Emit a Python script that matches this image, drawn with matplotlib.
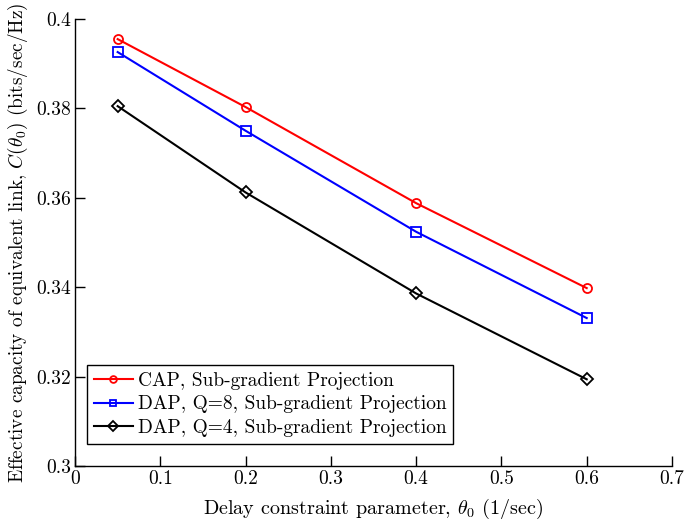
import matplotlib
matplotlib.use('Agg')
import matplotlib.pyplot as plt

# data
theta = [0.05, 0.2, 0.4, 0.6]
cap_sg = [0.3955, 0.3803, 0.3588, 0.3398]
dap_q8 = [0.3926, 0.3750, 0.3524, 0.3331]
dap_q4 = [0.3805, 0.3612, 0.3386, 0.3194]

plt.rcParams['font.family'] = 'serif'
plt.rcParams['font.serif'] = ['cmr10']
plt.rcParams['mathtext.fontset'] = 'cm'
plt.rcParams['axes.formatter.use_mathtext'] = True

fig = plt.figure(figsize=(6.85, 5.2), dpi=100)
ax = fig.add_axes([0.1095, 0.1038, 0.8715, 0.8597])

ax.plot(theta, cap_sg, color='red', marker='o', mfc='none', ms=6.5, mew=1.3, lw=1.5,
        label='CAP, Sub-gradient Projection')
ax.plot(theta, dap_q8, color='blue', marker='s', mfc='none', ms=6.5, mew=1.3, lw=1.5,
        label='DAP, Q=8, Sub-gradient Projection')
ax.plot(theta, dap_q4, color='black', marker='D', mfc='none', ms=6.5, mew=1.3, lw=1.5,
        label='DAP, Q=4, Sub-gradient Projection')

ax.set_xlim(0, 0.7)
ax.set_ylim(0.3, 0.4)
ax.set_xticks([0, 0.1, 0.2, 0.3, 0.4, 0.5, 0.6, 0.7])
ax.set_xticklabels(['0', '0.1', '0.2', '0.3', '0.4', '0.5', '0.6', '0.7'])
ax.set_yticks([0.3, 0.32, 0.34, 0.36, 0.38, 0.4])
ax.set_yticklabels(['0.3', '0.32', '0.34', '0.36', '0.38', '0.4'])
ax.tick_params(direction='in', length=7, width=1, labelsize=14, pad=3)
ax.spines['top'].set_visible(False)
ax.spines['right'].set_visible(False)
ax.spines['left'].set_linewidth(1)
ax.spines['bottom'].set_linewidth(1)

ax.set_xlabel(r'Delay constraint parameter, $\theta_0$ (1/sec)', fontsize=14.5, labelpad=6)
ax.set_ylabel(r'Effective capacity of equivalent link, $C(\theta_0)$ (bits/sec/Hz)', fontsize=13.9, labelpad=4)

leg = ax.legend(loc='lower left', bbox_to_anchor=(0.02, 0.05), fontsize=14,
                fancybox=False, edgecolor='black', framealpha=1,
                handlelength=2.0, handletextpad=0.25, labelspacing=0.28,
                borderpad=0.35, markerscale=0.75, borderaxespad=0)
leg.get_frame().set_linewidth(1)

fig.savefig('out.png', dpi=100)
